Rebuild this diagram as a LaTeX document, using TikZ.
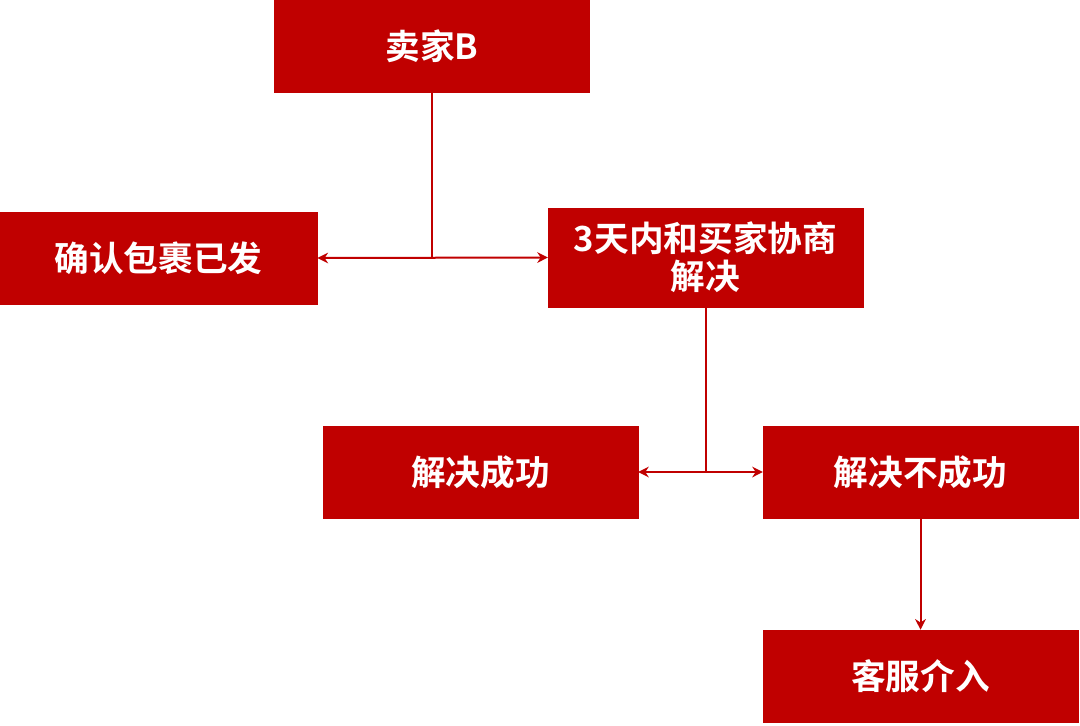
\documentclass[tikz,border=0pt]{standalone}
\usepackage{fontspec}
\newfontfamily\cjk{Noto Sans CJK SC}[BoldFont={Noto Sans CJK SC Bold}]
\usepackage{tikz}
\usetikzlibrary{arrows.meta,positioning,calc}
\definecolor{boxred}{HTML}{C00000}

\begin{document}
\begin{tikzpicture}[
  x=0.75pt, y=-0.75pt,
  box/.style={rectangle, fill=boxred, draw=boxred, minimum width=236pt, minimum height=69pt, align=center, text=white, font=\cjk\bfseries\fontsize{26}{28.5}\selectfont, inner sep=0pt},
  arrow/.style={-{Stealth[length=8pt,width=8pt]}, line width=1.5pt, draw=boxred},
  biarrow/.style={{Stealth[length=8pt,width=8pt]}-{Stealth[length=8pt,width=8pt]}, line width=1.5pt, draw=boxred},
  line/.style={line width=1.5pt, draw=boxred}
]
\useasboundingbox (0,0) rectangle (1080,725);
\node[box] (seller) at (432,46) {卖家B};
\node[box, minimum width=238pt] (confirm) at (158.5,258) {确认包裹已发};
\node[box, minimum height=74pt] (negotiate) at (705.5,257.5) {3天内和买家协商\\解决};
\node[box] (success) at (480.5,472) {解决成功};
\node[box] (fail) at (920.5,472) {解决不成功};
\node[box] (service) at (920.5,676) {客服介入};
\coordinate (j1) at (seller.south |- 0,259);
\coordinate (j2) at (negotiate.south |- fail.west);
\draw[line] (seller) -- (j1);
\draw[biarrow] (confirm.east) -- (negotiate.west);
\draw[line] (negotiate) -- (j2);
\draw[biarrow] (success) -- (fail);
\draw[arrow] (fail) -- (service);
\end{tikzpicture}
\end{document}
